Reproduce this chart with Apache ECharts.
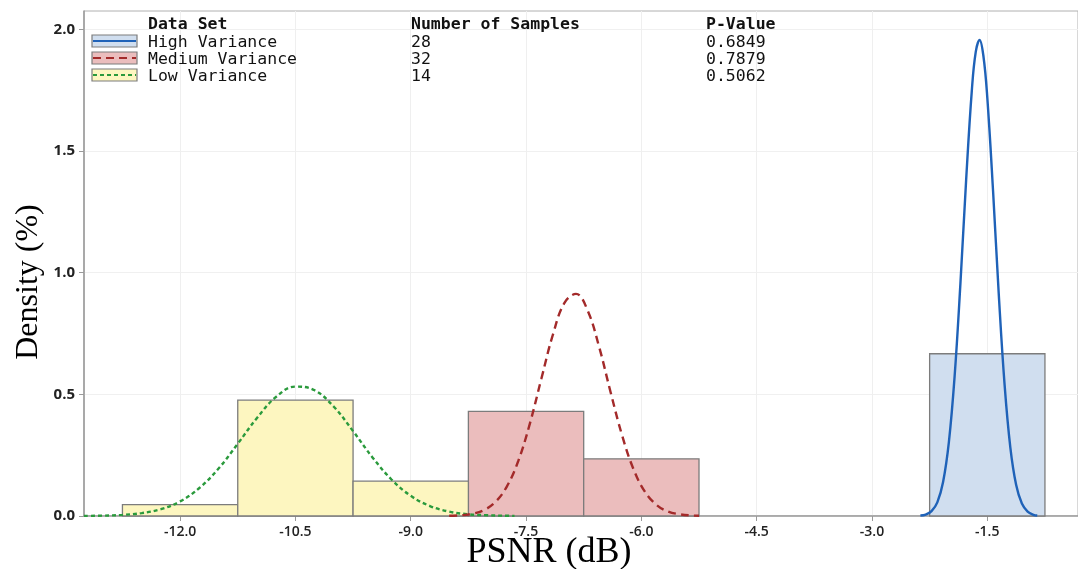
<!DOCTYPE html>
<html><head><meta charset="utf-8">
<script src="https://cdn.jsdelivr.net/npm/echarts@6/dist/echarts.min.js"></script>
<style>html,body{margin:0;padding:0;background:#fff}#c{width:1078px;height:569px}</style>
</head><body><div id="c"></div>
<script>
// ---- data ----
const xTickValues = [-12, -10.5, -9, -7.5, -6, -4.5, -3, -1.5];
const yTickValues = [0, 0.5, 1, 1.5, 2];

const dataSetNames = ['High Variance', 'Medium Variance', 'Low Variance'];
const sampleCounts = [28, 32, 14];
const pValues = ['0.6849', '0.7879', '0.5062'];

// histogram bins: [left edge, right edge, density]
const highBins = [[-2.25, -0.75, 0.667]];
const mediumBins = [[-8.25, -6.75, 0.43], [-6.75, -5.25, 0.235]];
const lowBins = [[-12.75, -11.25, 0.047], [-11.25, -9.75, 0.476], [-9.75, -8.25, 0.143]];

// fitted density curves
const highCurve = [[-2.37,0.002],[-2.3,0.006],[-2.225,0.020],[-2.15,0.056],[-2.075,0.140],[-2.0,0.303],[-1.925,0.574],[-1.85,0.953],[-1.775,1.382],[-1.7,1.754],[-1.65,1.908],[-1.6,1.957],[-1.55,1.890],[-1.5,1.721],[-1.425,1.337],[-1.35,0.908],[-1.275,0.540],[-1.2,0.281],[-1.125,0.128],[-1.05,0.051],[-0.975,0.018],[-0.9,0.005],[-0.85,0.002]];
const mediumCurve = [[-8.5,0.001],[-8.35,0.003],[-8.2,0.009],[-8.05,0.024],[-7.9,0.057],[-7.75,0.121],[-7.6,0.227],[-7.45,0.380],[-7.3,0.565],[-7.15,0.746],[-7.0,0.876],[-6.85,0.913],[-6.7,0.846],[-6.55,0.696],[-6.4,0.509],[-6.25,0.331],[-6.1,0.191],[-5.95,0.098],[-5.8,0.045],[-5.65,0.018],[-5.5,0.007],[-5.35,0.002],[-5.25,0.001]];
const lowCurve = [[-13.25,0.0005],[-13.0,0.0015],[-12.75,0.0045],[-12.5,0.012],[-12.25,0.028],[-12.0,0.060],[-11.75,0.115],[-11.5,0.195],[-11.25,0.297],[-11.0,0.403],[-10.75,0.490],[-10.5,0.532],[-10.25,0.517],[-10.0,0.449],[-9.75,0.349],[-9.5,0.242],[-9.25,0.150],[-9.0,0.083],[-8.75,0.041],[-8.5,0.018],[-8.25,0.007],[-8.0,0.003],[-7.75,0.001],[-7.65,0.0005]];

const xAxisTitle = 'PSNR (dB)';
const yAxisTitle = 'Density (%)';

// ---- styles ----
const fills = ['#d0deef', '#ebbdbd', '#fdf6c0'];
const lineColors = ['#1f62b8', '#a32a2a', '#2a9a3c'];
const lineTypes = ['solid', [8, 5], [4, 3]];

function barSeries(bins, fill) {
  return {
    type: 'custom', data: bins, encode: { x: [0, 1], y: 2 }, z: 2,
    renderItem: function (params, api) {
      const p0 = api.coord([api.value(0), api.value(2)]);
      const p1 = api.coord([api.value(1), 0]);
      return { type: 'rect', shape: { x: p0[0], y: p0[1], width: p1[0] - p0[0], height: p1[1] - p0[1] },
        style: { fill: fill, stroke: '#7c7c7c', lineWidth: 1.3 } };
    }
  };
}
function curveSeries(data, i) {
  return { type: 'line', data: data, showSymbol: false, smooth: 0.4, z: 3,
    lineStyle: { color: lineColors[i], width: 2.4, type: lineTypes[i] } };
}

// legend table as graphics
const mono = '"DejaVu Sans Mono", "Liberation Mono", monospace';
const colX = [148, 411, 706];
const graphics = [];
['Data Set', 'Number of Samples', 'P-Value'].forEach((t, j) => {
  graphics.push({ type: 'text', left: colX[j], top: 16, z: 10,
    style: { text: t, font: 'bold 16.5px ' + mono, fill: '#111' } });
});
dataSetNames.forEach((name, i) => {
  const yc = 41 + i * 17;
  graphics.push({ type: 'rect', shape: { x: 92, y: yc - 6, width: 45, height: 12 }, z: 10,
    style: { fill: fills[i], stroke: '#7c7c7c', lineWidth: 1.2 } });
  graphics.push({ type: 'line', shape: { x1: 93, y1: yc, x2: 136, y2: yc }, z: 11,
    style: { stroke: lineColors[i], lineWidth: 2, lineDash: lineTypes[i] === 'solid' ? null : lineTypes[i] } });
  [name, String(sampleCounts[i]), pValues[i]].forEach((t, j) => {
    graphics.push({ type: 'text', left: colX[j], top: yc - 7, z: 10,
      style: { text: t, font: '16.5px ' + mono, fill: '#111' } });
  });
});
// axis titles
graphics.push({ type: 'text', x: 549, y: 553, z: 10,
  style: { text: xAxisTitle, font: '36px "Liberation Serif", serif', fill: '#000', align: 'center', verticalAlign: 'middle' } });
graphics.push({ type: 'text', x: 29, y: 282, rotation: Math.PI / 2, z: 10,
  style: { text: yAxisTitle, font: '32px "Liberation Serif", serif', fill: '#000', align: 'center', verticalAlign: 'middle' } });

const chart = echarts.init(document.getElementById('c'));
chart.setOption({
  animation: false,
  backgroundColor: '#fff',
  grid: { left: 84, right: 0, top: 11, bottom: 53, outerBoundsMode: 'none', containLabel: false,
    show: true, borderColor: '#b0b0b0', borderWidth: 1 },
  xAxis: {
    type: 'value', min: -13.25, max: -0.32,
    axisLine: { show: true, onZero: false, lineStyle: { color: '#9a9a9a', width: 1.5 } },
    axisTick: { show: true, customValues: xTickValues, length: 5, lineStyle: { color: '#9a9a9a' } },
    axisLabel: { customValues: xTickValues, formatter: v => v.toFixed(1), margin: 9,
      fontFamily: '"Open Sans", sans-serif', fontSize: 14, fontWeight: 600, color: '#222' },
    splitLine: { show: true, lineStyle: { color: '#efefef', width: 1 } }
  },
  yAxis: {
    type: 'value', min: 0, max: 2.076,
    axisLine: { show: true, lineStyle: { color: '#9a9a9a', width: 1.5 } },
    axisTick: { show: true, customValues: yTickValues, length: 5, lineStyle: { color: '#9a9a9a' } },
    axisLabel: { customValues: yTickValues, formatter: v => v.toFixed(1), margin: 9,
      fontFamily: '"Open Sans", sans-serif', fontSize: 15, fontWeight: 700, color: '#222' },
    splitLine: { show: true, lineStyle: { color: '#f0f0f0', width: 1 } }
  },
  graphic: graphics,
  series: [
    barSeries(highBins, fills[0]), barSeries(mediumBins, fills[1]), barSeries(lowBins, fills[2]),
    curveSeries(lowCurve, 2), curveSeries(mediumCurve, 1), curveSeries(highCurve, 0)
  ]
});
</script></body></html>
